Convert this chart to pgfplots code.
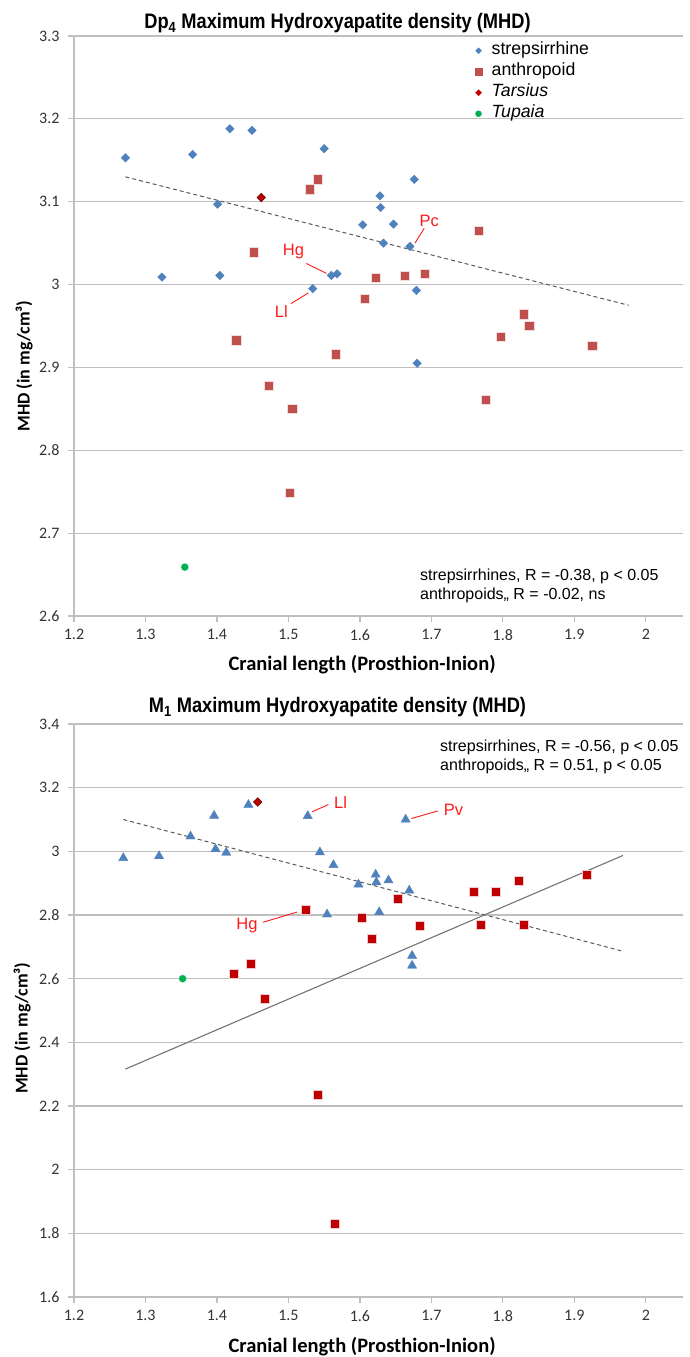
\documentclass[border=0pt]{standalone}
\usepackage{fontspec}
\usepackage{pgfplots}
\pgfplotsset{compat=1.18}
\setmainfont{Liberation Sans}
\newfontfamily\carlito{Carlito}
\newfontfamily\titlefont[FakeStretch=0.87]{Liberation Sans}

\definecolor{strep}{HTML}{4F81BD}
\definecolor{anthA}{HTML}{C0504D}
\definecolor{anthB}{HTML}{C00000}
\definecolor{tars}{HTML}{C00000}
\definecolor{tupa}{HTML}{00B050}
\definecolor{gridgray}{HTML}{BFBFBF}
\definecolor{lblred}{HTML}{FF1A1A}

% Dp4 data
\pgfplotstableread{
x y
1.272 3.153
1.366 3.157
1.418 3.188
1.449 3.186
1.550 3.164
1.401 3.097
1.323 3.009
1.404 3.011
1.560 3.011
1.568 3.013
1.534 2.995
1.628 3.107
1.629 3.093
1.604 3.072
1.647 3.073
1.633 3.050
1.676 3.127
1.670 3.046
1.679 2.993
1.680 2.905
}\strepA
\pgfplotstableread{
x y
1.541 3.127
1.530 3.115
1.451 3.039
1.622 3.008
1.607 2.983
1.663 3.011
1.691 3.013
1.766 3.065
1.829 2.964
1.837 2.950
1.797 2.937
1.925 2.926
1.776 2.861
1.427 2.933
1.566 2.916
1.472 2.878
1.505 2.850
1.502 2.749
}\anthA
% M1 data
\pgfplotstableread{
x y
1.269 2.979
1.319 2.985
1.363 3.047
1.396 3.112
1.398 3.007
1.413 2.996
1.444 3.146
1.527 3.111
1.544 2.997
1.563 2.957
1.598 2.896
1.622 2.927
1.623 2.903
1.640 2.909
1.554 2.802
1.627 2.809
1.664 3.100
1.669 2.877
1.673 2.672
1.673 2.641
}\strepB
\pgfplotstableread{
x y
1.524 2.816
1.603 2.791
1.616 2.727
1.653 2.851
1.684 2.765
1.759 2.873
1.790 2.873
1.822 2.908
1.917 2.928
1.769 2.769
1.829 2.769
1.423 2.616
1.447 2.647
1.467 2.536
1.541 2.234
1.565 1.831
}\anthB

\tikzset{
  lbl/.style={text=lblred, font=\fontsize{16.5}{18}\selectfont},
  lblline/.style={draw=lblred, line width=0.9pt},
  note/.style={anchor=base west, font=\fontsize{16}{18}\selectfont, inner sep=0pt},
}

\pgfplotsset{
  mhdaxis/.style={
    scale only axis,
    width=609pt,
    xmin=1.2, xmax=2.052,
    xtick={1.2,1.3,1.4,1.5,1.6,1.7,1.8,1.9,2},
    axis x line*=bottom, axis y line*=left,
    axis line style={draw=gridgray, line width=1.2pt, -},
    tick style={draw=gridgray, line width=1.2pt},
    tick align=outside,
    major tick length=6pt,
    ymajorgrids,
    major grid style={draw=gridgray, line width=1.2pt},
    /pgf/number format/assume math mode=true,
    ticklabel style={font=\carlito\fontsize{16}{16}\selectfont, text=black!80},
    xticklabel style={yshift=-4pt},
    yticklabel style={xshift=-5pt},
    xlabel={Cranial length (Prosthion-Inion)},
    ylabel={MHD (in mg/cm³)},
    xlabel style={font=\carlito\bfseries\fontsize{20.5}{22}\selectfont, anchor=center},
    ylabel style={font=\carlito\bfseries\fontsize{18}{20}\selectfont, anchor=center},
    clip=false,
  },
}

\begin{document}
\begin{tikzpicture}[x=1pt,y=1pt]
\useasboundingbox (0,0) rectangle (690,1357);

% ---------- Dp4 ----------
\begin{axis}[mhdaxis,
  at={(74pt,741pt)}, anchor=south west,
  height=580pt,
  ymin=2.6, ymax=3.3,
  ytick={2.6,2.7,2.8,2.9,3,3.1,3.2,3.3},
  yticklabels={2.6,2.7,2.8,2.9,3,3.1,3.2,3.3},
  xlabel style={at={(rel axis cs:0.473,-0.0845)}},
  ylabel style={at={(rel axis cs:-0.082,0.431)}},
  legend style={at={(rel axis cs:0.657,0.993)}, anchor=north west,
    draw=none, fill=none, inner sep=0pt, row sep=0pt,
    font=\fontsize{17.7}{20}\selectfont,
    nodes={inner sep=0pt, text height=14pt, text depth=7pt}},
  legend cell align=left,
  legend image code/.code={\draw[#1] plot coordinates {(0pt,0pt)}; \path (-4pt,0pt) (13pt,0pt);},
]
\addlegendimage{only marks, mark=square*, mark options={rotate=45, fill=strep, draw=strep}, mark size=2.1pt}
\addlegendentry{strepsirrhine}
\addlegendimage{only marks, mark=square*, mark options={fill=anthA, draw=anthA}, mark size=3.4pt}
\addlegendentry{anthropoid}
\addlegendimage{only marks, mark=square*, mark options={rotate=45, fill=tars, draw=tars}, mark size=2.1pt}
\addlegendentry{\itshape Tarsius}
\addlegendimage{only marks, mark=*, mark options={fill=tupa, draw=tupa}, mark size=3pt}
\addlegendentry{\itshape Tupaia}

\addplot[forget plot, draw=black!65, line width=1pt, dash pattern=on 4pt off 3pt] coordinates {(1.272,3.130) (1.976,2.975)};
\addplot[forget plot, only marks, mark=square*, mark size=4.7pt, mark options={fill=anthA, draw=white!80!anthA, line width=0.4pt}] table {\anthA};
\addplot[forget plot, only marks, mark=square*, mark size=3pt, mark options={rotate=45, fill=strep, draw=strep}] table {\strepA};
\addplot[forget plot, only marks, mark=square*, mark size=3pt, mark options={rotate=45, fill=tars, draw=black!50!tars, line width=0.5pt}] coordinates {(1.462,3.105)};
\addplot[forget plot, only marks, mark=*, mark size=3.9pt, mark options={fill=tupa, draw=white!70!tupa, line width=0.4pt}] coordinates {(1.355,2.659)};

\draw[lblline] (axis cs:1.525,3.0255) -- (axis cs:1.553,3.0135);
\node[lbl] at (axis cs:1.507,3.0395) {Hg};
\draw[lblline] (axis cs:1.5035,2.977) -- (axis cs:1.528,2.990);
\node[lbl] at (axis cs:1.490,2.968) {Ll};
\draw[lblline] (axis cs:1.690,3.068) -- (axis cs:1.677,3.050);
\node[lbl] at (axis cs:1.697,3.077) {Pc};

\node[note] at (rel axis cs:0.568,0.0609) {strepsirrhines, R = -0.38, p < 0.05};
\node[note] at (rel axis cs:0.568,0.0276) {anthropoids,, R = -0.02, ns};
\end{axis}

% ---------- M1 ----------
\begin{axis}[mhdaxis,
  at={(74pt,60pt)}, anchor=south west,
  height=573pt,
  ymin=1.6, ymax=3.4,
  ytick={1.6,1.8,2,2.2,2.4,2.6,2.8,3,3.2,3.4},
  yticklabels={1.6,1.8,2,2.2,2.4,2.6,2.8,3,3.2,3.4},
  xlabel style={at={(rel axis cs:0.473,-0.0867)}},
  ylabel style={at={(rel axis cs:-0.085,0.469)}},
]
\addplot[draw=black!65, line width=1pt, dash pattern=on 4pt off 3pt] coordinates {(1.269,3.100) (1.968,2.686)};
\addplot[draw=black!55, line width=1.1pt] coordinates {(1.272,2.316) (1.968,2.987)};
\addplot[only marks, mark=square*, mark size=4.5pt, mark options={fill=anthB, draw=white!80!anthB, line width=0.4pt}] table {\anthB};
\addplot[only marks, mark=triangle*, mark size=5.3pt, mark options={fill=strep, draw=strep}] table {\strepB};
\addplot[only marks, mark=square*, mark size=3pt, mark options={rotate=45, fill=tars, draw=black!50!tars, line width=0.5pt}] coordinates {(1.457,3.155)};
\addplot[only marks, mark=*, mark size=3.9pt, mark options={fill=tupa, draw=white!70!tupa, line width=0.4pt}] coordinates {(1.352,2.600)};

\draw[lblline] (axis cs:1.533,3.124) -- (axis cs:1.556,3.147);
\node[lbl] at (axis cs:1.573,3.152) {Ll};
\draw[lblline] (axis cs:1.672,3.103) -- (axis cs:1.709,3.127);
\node[lbl] at (axis cs:1.731,3.129) {Pv};
\draw[lblline] (axis cs:1.464,2.777) -- (axis cs:1.512,2.809);
\node[lbl] at (axis cs:1.442,2.767) {Hg};

\node[note] at (rel axis cs:0.601,0.9517) {strepsirrhines, R = -0.56, p < 0.05};
\node[note] at (rel axis cs:0.601,0.918) {anthropoids,, R = 0.51, p < 0.05};
\end{axis}

% chart titles
\node[anchor=base, font=\titlefont\bfseries\fontsize{21}{24}\selectfont] at (337.5,1328) {Dp\textsubscript{4} Maximum Hydroxyapatite density (MHD)};
\node[anchor=base, font=\titlefont\bfseries\fontsize{21}{24}\selectfont] at (337.5,644) {M\textsubscript{1} Maximum Hydroxyapatite density (MHD)};
\end{tikzpicture}
\end{document}
